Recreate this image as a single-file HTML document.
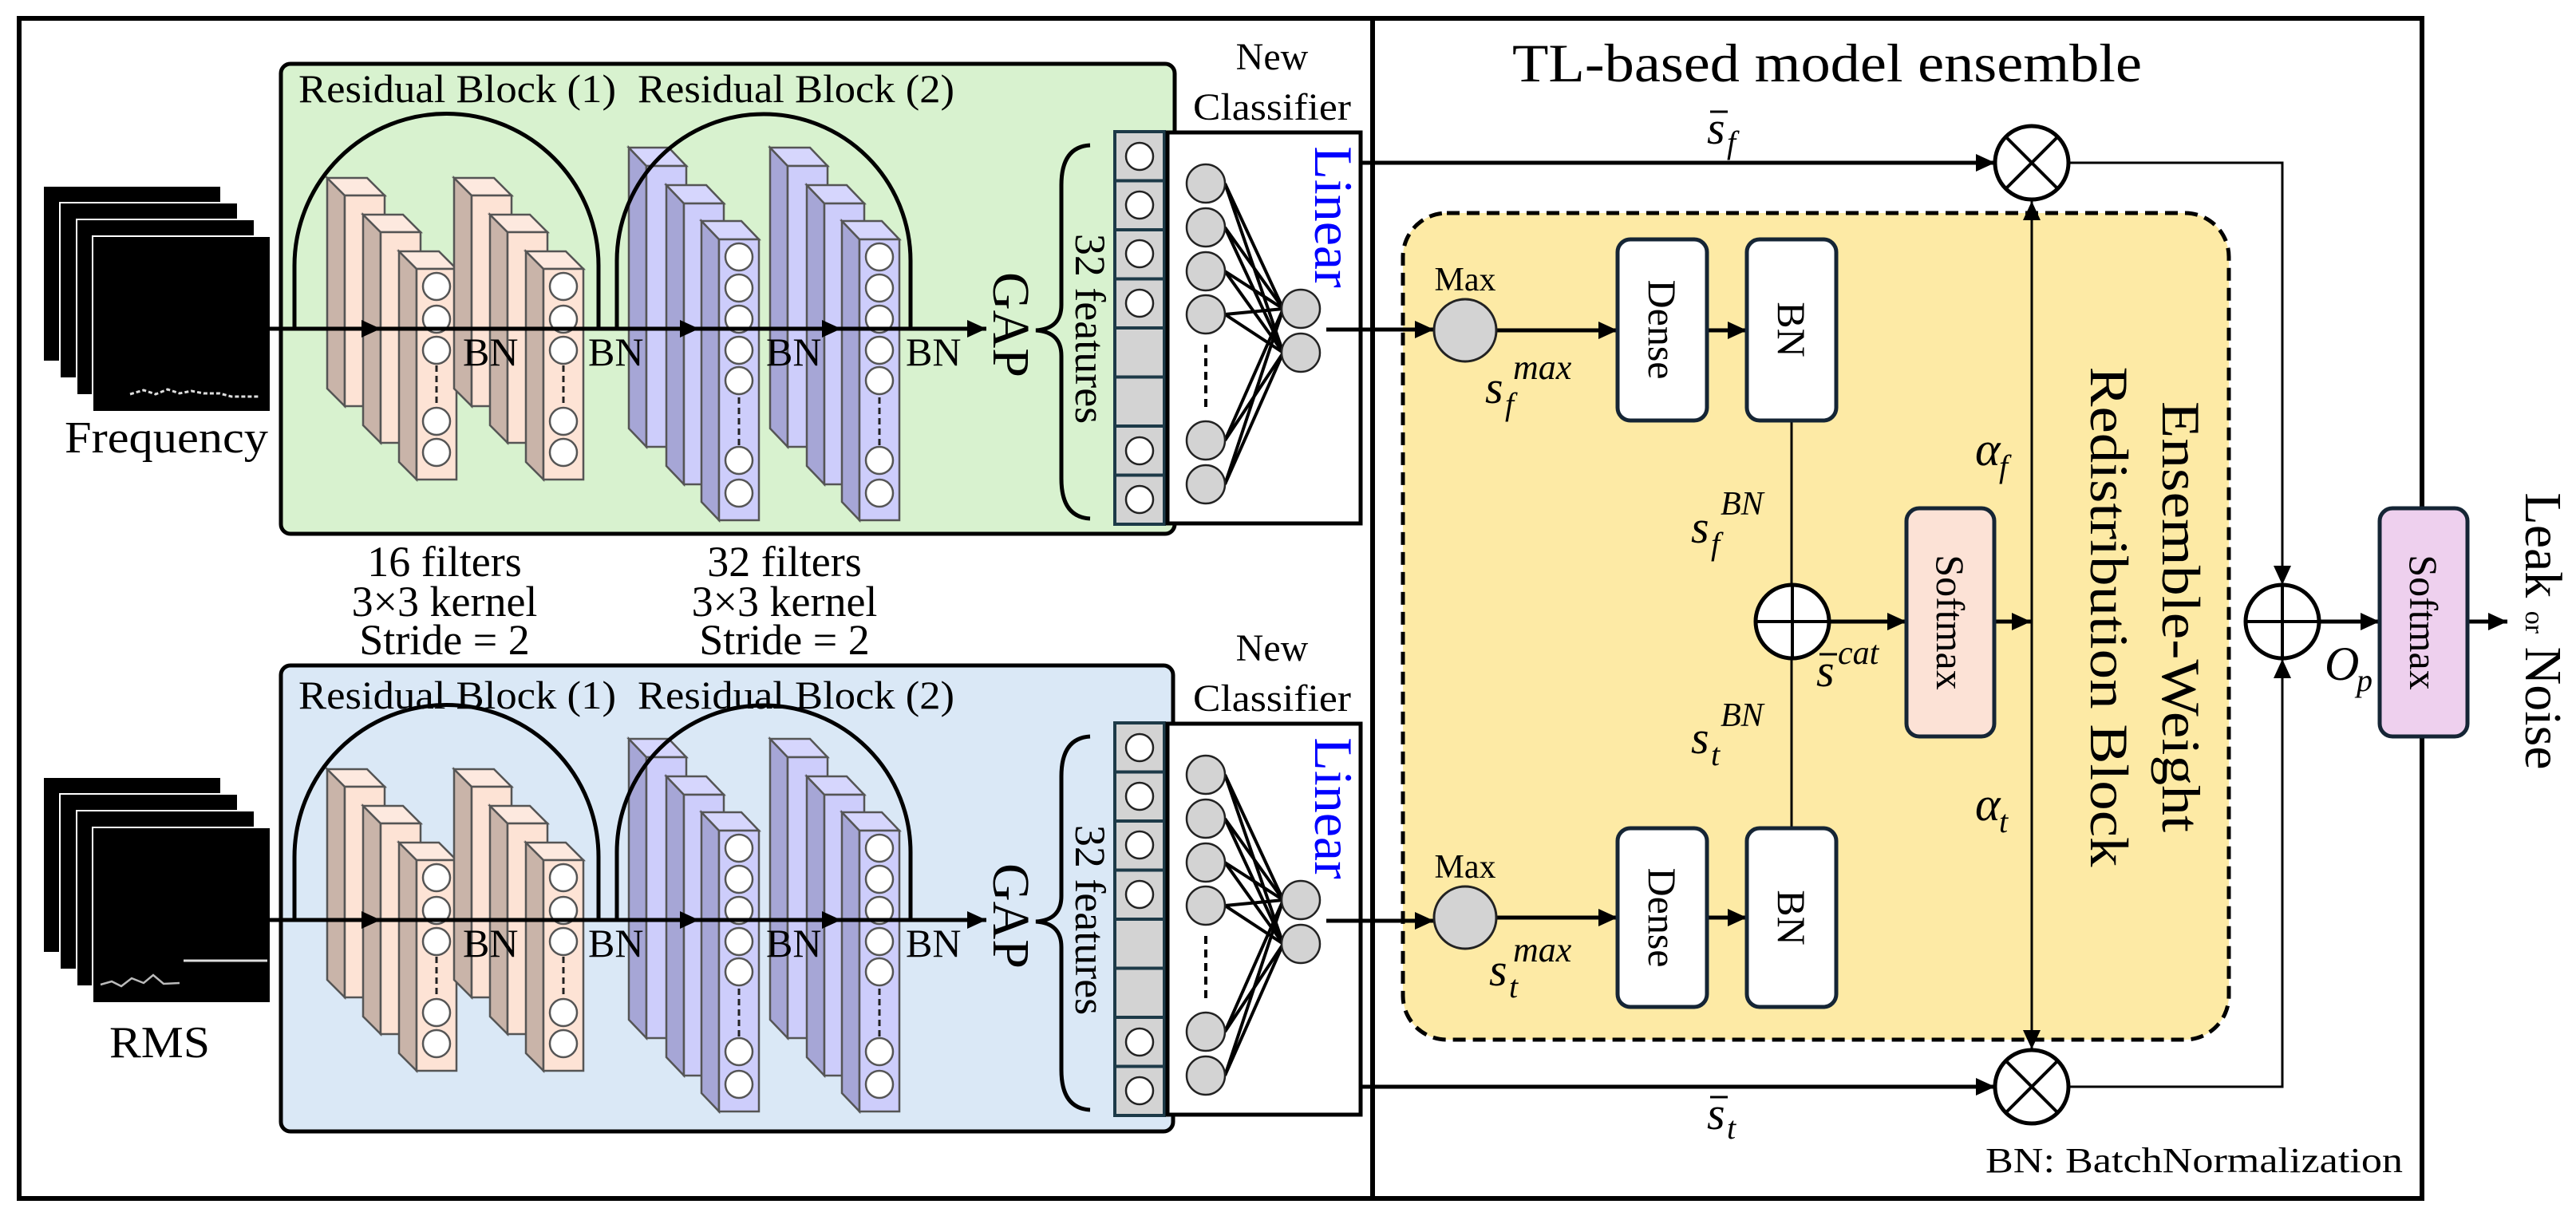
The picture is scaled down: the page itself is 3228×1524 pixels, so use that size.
<!DOCTYPE html>
<html><head><meta charset="utf-8"><style>
html,body{margin:0;padding:0;background:#fff;}
svg{display:block;}
svg, svg text, svg tspan{font-family:"Liberation Serif","Times New Roman",serif !important;}
text{fill:#000;}
.it{font-style:italic;}
</style></head><body>
<svg width="3228" height="1524" viewBox="0 0 3228 1524" xmlns="http://www.w3.org/2000/svg" font-family="Liberation Serif, serif">
<defs>
<marker id="ah" markerUnits="userSpaceOnUse" markerWidth="26" markerHeight="22" refX="24" refY="11" orient="auto"><path d="M0,0 L24,11 L0,22 z" fill="#000"/></marker>
<g id="pk">
<polygon points="0,0 22,22 22,286 0,264" fill="#c9b4a9" stroke="#555" stroke-width="2.5"/>
<polygon points="0,0 50,0 72,22 22,22" fill="#fde9df" stroke="#555" stroke-width="2.5"/>
<rect x="22" y="22" width="50" height="264" fill="#fde3d5" stroke="#555" stroke-width="2.5"/>
</g>
<g id="bl">
<polygon points="0,0 22,23 22,375 0,352" fill="#a6a6d6" stroke="#555" stroke-width="2.5"/>
<polygon points="0,0 50,0 72,23 22,23" fill="#d6d6fd" stroke="#555" stroke-width="2.5"/>
<rect x="22" y="23" width="50" height="352" fill="#cdcdfb" stroke="#555" stroke-width="2.5"/>
</g>
<g id="net">
<use href="#pk" x="410" y="223"/><use href="#pk" x="455" y="269"/><use href="#pk" x="500" y="315"/>
<use href="#pk" x="569" y="223"/><use href="#pk" x="614" y="269"/><use href="#pk" x="659" y="315"/>
<use href="#bl" x="788" y="185"/><use href="#bl" x="835" y="232"/><use href="#bl" x="879" y="277"/>
<use href="#bl" x="965" y="185"/><use href="#bl" x="1011" y="232"/><use href="#bl" x="1055" y="277"/>
<g fill="#fff" stroke="#555" stroke-width="2.5">
<circle cx="547" cy="359" r="17"/><circle cx="547" cy="400" r="17"/><circle cx="547" cy="439" r="17"/><circle cx="547" cy="528" r="17"/><circle cx="547" cy="567" r="17"/>
<circle cx="706" cy="359" r="17"/><circle cx="706" cy="400" r="17"/><circle cx="706" cy="439" r="17"/><circle cx="706" cy="528" r="17"/><circle cx="706" cy="567" r="17"/>
<circle cx="926" cy="322" r="17"/><circle cx="926" cy="361" r="17"/><circle cx="926" cy="400" r="17"/><circle cx="926" cy="439" r="17"/><circle cx="926" cy="477" r="17"/><circle cx="926" cy="577" r="17"/><circle cx="926" cy="618" r="17"/>
<circle cx="1102" cy="322" r="17"/><circle cx="1102" cy="361" r="17"/><circle cx="1102" cy="400" r="17"/><circle cx="1102" cy="439" r="17"/><circle cx="1102" cy="477" r="17"/><circle cx="1102" cy="577" r="17"/><circle cx="1102" cy="618" r="17"/>
</g>
<g stroke="#222" stroke-width="3" stroke-dasharray="8 5">
<line x1="547" y1="458" x2="547" y2="510"/><line x1="706" y1="458" x2="706" y2="510"/>
<line x1="926" y1="498" x2="926" y2="558"/><line x1="1102" y1="498" x2="1102" y2="558"/>
</g>
<g fill="none" stroke="#000" stroke-width="5">
<path d="M369,412 L369,333 A190.5,190.5 0 0 1 750,333 L750,412"/>
<path d="M773,412 L773,327 A184,184 0 0 1 1141,327 L1141,412"/>
<path d="M336,412 L477,412" marker-end="url(#ah)"/>
<path d="M477,412 L876,412" marker-end="url(#ah)"/>
<path d="M876,412 L1054,412" marker-end="url(#ah)"/>
<path d="M1054,412 L1236,412" marker-end="url(#ah)"/>
<path d="M1366,182 Q1330,184 1330,232 L1330,382 Q1330,412 1298,414 Q1330,416 1330,446 L1330,600 Q1330,648 1366,650"/>
</g>
<g fill="#d3d3d3" stroke="#1d3a48" stroke-width="4">
<rect x="1397" y="165" width="62" height="61.5"/><rect x="1397" y="226.5" width="62" height="61.5"/><rect x="1397" y="288" width="62" height="61.5"/><rect x="1397" y="349.5" width="62" height="61.5"/><rect x="1397" y="411" width="62" height="61.5"/><rect x="1397" y="472.5" width="62" height="61.5"/><rect x="1397" y="534" width="62" height="61.5"/><rect x="1397" y="595.5" width="62" height="61.5"/>
</g>
<g fill="#fff" stroke="#222" stroke-width="2.5">
<circle cx="1428" cy="196" r="17"/><circle cx="1428" cy="257" r="17"/><circle cx="1428" cy="318" r="17"/><circle cx="1428" cy="380" r="17"/><circle cx="1428" cy="565" r="17"/><circle cx="1428" cy="626" r="17"/>
</g>
<rect x="1463" y="166" width="242" height="490" fill="#fff" stroke="#000" stroke-width="5"/>
<g stroke="#000" stroke-width="4">
<line x1="1535" y1="230" x2="1608" y2="387"/><line x1="1535" y1="230" x2="1608" y2="442"/>
<line x1="1535" y1="285" x2="1608" y2="387"/><line x1="1535" y1="285" x2="1608" y2="442"/>
<line x1="1535" y1="340" x2="1608" y2="387"/><line x1="1535" y1="340" x2="1608" y2="442"/>
<line x1="1535" y1="394" x2="1608" y2="387"/><line x1="1535" y1="394" x2="1608" y2="442"/>
<line x1="1535" y1="552" x2="1608" y2="387"/><line x1="1535" y1="552" x2="1608" y2="442"/>
<line x1="1535" y1="607" x2="1608" y2="387"/><line x1="1535" y1="607" x2="1608" y2="442"/>
</g>
<g fill="#d3d3d3" stroke="#222" stroke-width="2.5">
<circle cx="1511" cy="230" r="24"/><circle cx="1511" cy="285" r="24"/><circle cx="1511" cy="340" r="24"/><circle cx="1511" cy="394" r="24"/><circle cx="1511" cy="552" r="24"/><circle cx="1511" cy="607" r="24"/>
<circle cx="1630" cy="387" r="24"/><circle cx="1630" cy="442" r="24"/>
</g>
<line x1="1511" y1="432" x2="1511" y2="510" stroke="#000" stroke-width="4" stroke-dasharray="10 7"/>
</g>
</defs>

<rect x="24" y="23" width="3011" height="1479" fill="none" stroke="#000" stroke-width="6"/>
<line x1="1720" y1="23" x2="1720" y2="1502" stroke="#000" stroke-width="6"/>

<g fill="#000" stroke="#fff" stroke-width="2">
<rect x="54" y="233" width="223" height="220"/><rect x="75" y="254" width="223" height="220"/><rect x="96" y="275" width="223" height="220"/><rect x="116" y="296" width="223" height="220"/>
</g>
<polyline points="163,494 180,489 195,494 210,488 225,493 240,490 255,493 275,493 290,497 310,497 325,497" fill="none" stroke="#ddd" stroke-width="3" stroke-dasharray="5 3"/>
<text x="81" y="567" font-size="56" textLength="255" lengthAdjust="spacingAndGlyphs">Frequency</text>
<rect x="352" y="80" width="1120" height="589" rx="12" fill="#d8f2cf" stroke="#000" stroke-width="5"/>
<use href="#net"/>
<text x="374" y="128" font-size="50" textLength="398" lengthAdjust="spacingAndGlyphs">Residual Block (1)</text>
<text x="799" y="128" font-size="50" textLength="397" lengthAdjust="spacingAndGlyphs">Residual Block (2)</text>
<text x="580" y="458" font-size="50">BN</text><text x="737" y="458" font-size="50">BN</text><text x="960" y="458" font-size="50">BN</text><text x="1135" y="458" font-size="50">BN</text>
<text transform="translate(1245,407) rotate(90)" font-size="66" text-anchor="middle">GAP</text>
<text transform="translate(1348,412) rotate(90)" font-size="54" text-anchor="middle">32 features</text>
<text transform="translate(1648,272) rotate(90)" font-size="68" text-anchor="middle" style="fill:#0000ff">Linear</text>
<text x="1594" y="87" font-size="48" text-anchor="middle">New</text>
<text x="1594" y="150" font-size="48" text-anchor="middle" textLength="198" lengthAdjust="spacingAndGlyphs">Classifier</text>

<g font-size="54" text-anchor="middle">
<text x="557" y="722">16 filters</text><text x="557" y="772">3×3 kernel</text><text x="557" y="820">Stride = 2</text>
<text x="983" y="722">32 filters</text><text x="983" y="772">3×3 kernel</text><text x="983" y="820">Stride = 2</text>
</g>

<g fill="#000" stroke="#fff" stroke-width="2">
<rect x="54" y="974" width="223" height="220"/><rect x="75" y="995" width="223" height="220"/><rect x="96" y="1016" width="223" height="220"/><rect x="116" y="1037" width="223" height="220"/>
</g>
<line x1="230" y1="1204" x2="335" y2="1204" stroke="#ddd" stroke-width="3"/>
<polyline points="126,1234 140,1230 152,1236 165,1226 180,1232 192,1222 205,1233 225,1232" fill="none" stroke="#bbb" stroke-width="2.5"/>
<text x="137" y="1325" font-size="56" textLength="126" lengthAdjust="spacingAndGlyphs">RMS</text>
<rect x="352" y="834" width="1118" height="584" rx="12" fill="#dae8f6" stroke="#000" stroke-width="5"/>
<use href="#net" y="741"/>
<text x="374" y="888" font-size="50" textLength="398" lengthAdjust="spacingAndGlyphs">Residual Block (1)</text>
<text x="799" y="888" font-size="50" textLength="397" lengthAdjust="spacingAndGlyphs">Residual Block (2)</text>
<text x="580" y="1199" font-size="50">BN</text><text x="737" y="1199" font-size="50">BN</text><text x="960" y="1199" font-size="50">BN</text><text x="1135" y="1199" font-size="50">BN</text>
<text transform="translate(1245,1148) rotate(90)" font-size="66" text-anchor="middle">GAP</text>
<text transform="translate(1348,1153) rotate(90)" font-size="54" text-anchor="middle">32 features</text>
<text transform="translate(1648,1013) rotate(90)" font-size="68" text-anchor="middle" style="fill:#0000ff">Linear</text>
<text x="1594" y="828" font-size="48" text-anchor="middle">New</text>
<text x="1594" y="891" font-size="48" text-anchor="middle" textLength="198" lengthAdjust="spacingAndGlyphs">Classifier</text>

<text x="1895" y="102" font-size="68" textLength="789" lengthAdjust="spacingAndGlyphs">TL-based model ensemble</text>
<rect x="1758" y="267" width="1035" height="1036" rx="55" fill="#fdeaa5" stroke="#000" stroke-width="5" stroke-dasharray="16 9"/>

<g stroke="#000" stroke-width="5" fill="none">
<path d="M1705,204 L2500,204" marker-end="url(#ah)"/>
<path d="M1705,1362 L2500,1362" marker-end="url(#ah)"/>
<path d="M1662,413 L1797,413" marker-end="url(#ah)"/>
<path d="M1662,1154 L1797,1154" marker-end="url(#ah)"/>
<path d="M1875,414 L2027,414" marker-end="url(#ah)"/>
<path d="M2139,414 L2189,414" marker-end="url(#ah)"/>
<path d="M1875,1150 L2027,1150" marker-end="url(#ah)"/>
<path d="M2139,1150 L2189,1150" marker-end="url(#ah)"/>
<path d="M2292,779 L2389,779" marker-end="url(#ah)"/>
<path d="M2499,779 L2545,779" marker-end="url(#ah)"/>
<path d="M2906,779 L2982,779" marker-end="url(#ah)"/>
<path d="M3092,779 L3142,779" marker-end="url(#ah)"/>
</g>
<g stroke="#000" stroke-width="3" fill="none">
<line x1="2245" y1="527" x2="2245" y2="733"/>
<line x1="2245" y1="825" x2="2245" y2="1038"/>
<path d="M2546,780 L2546,252" marker-end="url(#ah)"/>
<path d="M2546,780 L2546,1315" marker-end="url(#ah)"/>
<path d="M2592,204 L2860,204 L2860,733" marker-end="url(#ah)"/>
<path d="M2592,1362 L2860,1362 L2860,826" marker-end="url(#ah)"/>
</g>

<circle cx="1836" cy="414" r="39" fill="#d3d3d3" stroke="#222" stroke-width="3"/>
<circle cx="1836" cy="1150" r="39" fill="#d3d3d3" stroke="#222" stroke-width="3"/>
<text x="1836" y="364" font-size="42" text-anchor="middle">Max</text>
<text x="1836" y="1100" font-size="42" text-anchor="middle">Max</text>

<g fill="#fff" stroke="#152535" stroke-width="5">
<rect x="2027" y="300" width="112" height="227" rx="16"/><rect x="2189" y="300" width="112" height="227" rx="16"/>
<rect x="2027" y="1038" width="112" height="224" rx="16"/><rect x="2189" y="1038" width="112" height="224" rx="16"/>
</g>
<text transform="translate(2083,413) rotate(90)" font-size="50" text-anchor="middle" dominant-baseline="central">Dense</text>
<text transform="translate(2245,413) rotate(90)" font-size="50" text-anchor="middle" dominant-baseline="central">BN</text>
<text transform="translate(2083,1150) rotate(90)" font-size="50" text-anchor="middle" dominant-baseline="central">Dense</text>
<text transform="translate(2245,1150) rotate(90)" font-size="50" text-anchor="middle" dominant-baseline="central">BN</text>

<rect x="2389" y="637" width="110" height="286" rx="16" fill="#fce2d6" stroke="#152535" stroke-width="5"/>
<text transform="translate(2444,780) rotate(90)" font-size="50" text-anchor="middle" dominant-baseline="central">Softmax</text>
<line x1="3035" y1="600" x2="3035" y2="1000" stroke="#000" stroke-width="6"/>
<rect x="2982" y="637" width="110" height="286" rx="16" fill="#eed0ee" stroke="#152535" stroke-width="5"/>
<text transform="translate(3037,780) rotate(90)" font-size="50" text-anchor="middle" dominant-baseline="central">Softmax</text>

<g fill="#fff" stroke="#000" stroke-width="5">
<circle cx="2246" cy="779" r="46"/><circle cx="2860" cy="779" r="46"/>
<circle cx="2546" cy="204" r="46"/><circle cx="2546" cy="1362" r="46"/>
</g>
<g stroke="#000" stroke-width="4">
<line x1="2200" y1="779" x2="2292" y2="779"/><line x1="2246" y1="733" x2="2246" y2="825"/>
<line x1="2814" y1="779" x2="2906" y2="779"/><line x1="2860" y1="733" x2="2860" y2="825"/>
<line x1="2513" y1="171" x2="2579" y2="237"/><line x1="2579" y1="171" x2="2513" y2="237"/>
<line x1="2513" y1="1329" x2="2579" y2="1395"/><line x1="2579" y1="1329" x2="2513" y2="1395"/>
</g>

<text transform="translate(2710,773) rotate(90)" font-size="68" text-anchor="middle" textLength="540" lengthAdjust="spacingAndGlyphs">Ensemble-Weight</text>
<text transform="translate(2620,773) rotate(90)" font-size="68" text-anchor="middle" textLength="627" lengthAdjust="spacingAndGlyphs">Redistribution Block</text>

<g>
<text x="2139" y="180" font-size="58" class="it">s</text><line x1="2143" y1="140" x2="2165" y2="140" stroke="#000" stroke-width="3"/><text x="2164" y="192" font-size="40" class="it">f</text>
<text x="2139" y="1415" font-size="58" class="it">s</text><line x1="2143" y1="1375" x2="2165" y2="1375" stroke="#000" stroke-width="3"/><text x="2164" y="1427" font-size="40" class="it">t</text>
<text x="1861" y="505" font-size="58" class="it">s</text><text x="1886" y="520" font-size="40" class="it">f</text><text x="1896" y="475" font-size="44" class="it">max</text>
<text x="1866" y="1235" font-size="58" class="it">s</text><text x="1891" y="1250" font-size="40" class="it">t</text><text x="1896" y="1205" font-size="44" class="it">max</text>
<text x="2119" y="680" font-size="58" class="it">s</text><text x="2144" y="695" font-size="40" class="it">f</text><text x="2156" y="645" font-size="42" class="it">BN</text>
<text x="2119" y="944" font-size="58" class="it">s</text><text x="2144" y="959" font-size="40" class="it">t</text><text x="2156" y="910" font-size="42" class="it">BN</text>
<text x="2276" y="860" font-size="58" class="it">s</text><line x1="2280" y1="820" x2="2302" y2="820" stroke="#000" stroke-width="3"/><text x="2303" y="832" font-size="42" class="it">cat</text>
<text x="2475" y="583" font-size="60" class="it">α</text><text x="2505" y="598" font-size="40" class="it">f</text>
<text x="2475" y="1028" font-size="60" class="it">α</text><text x="2505" y="1043" font-size="40" class="it">t</text>
<text x="2913" y="852" font-size="60" class="it">O</text><text x="2953" y="866" font-size="40" class="it">p</text>
</g>

<text transform="translate(3165,791) rotate(90)" text-anchor="middle"><tspan font-size="66">Leak </tspan><tspan font-size="34">or</tspan><tspan font-size="66"> Noise</tspan></text>
<text x="2488" y="1469" font-size="44" textLength="523" lengthAdjust="spacingAndGlyphs">BN: BatchNormalization</text>
</svg>
</body></html>
